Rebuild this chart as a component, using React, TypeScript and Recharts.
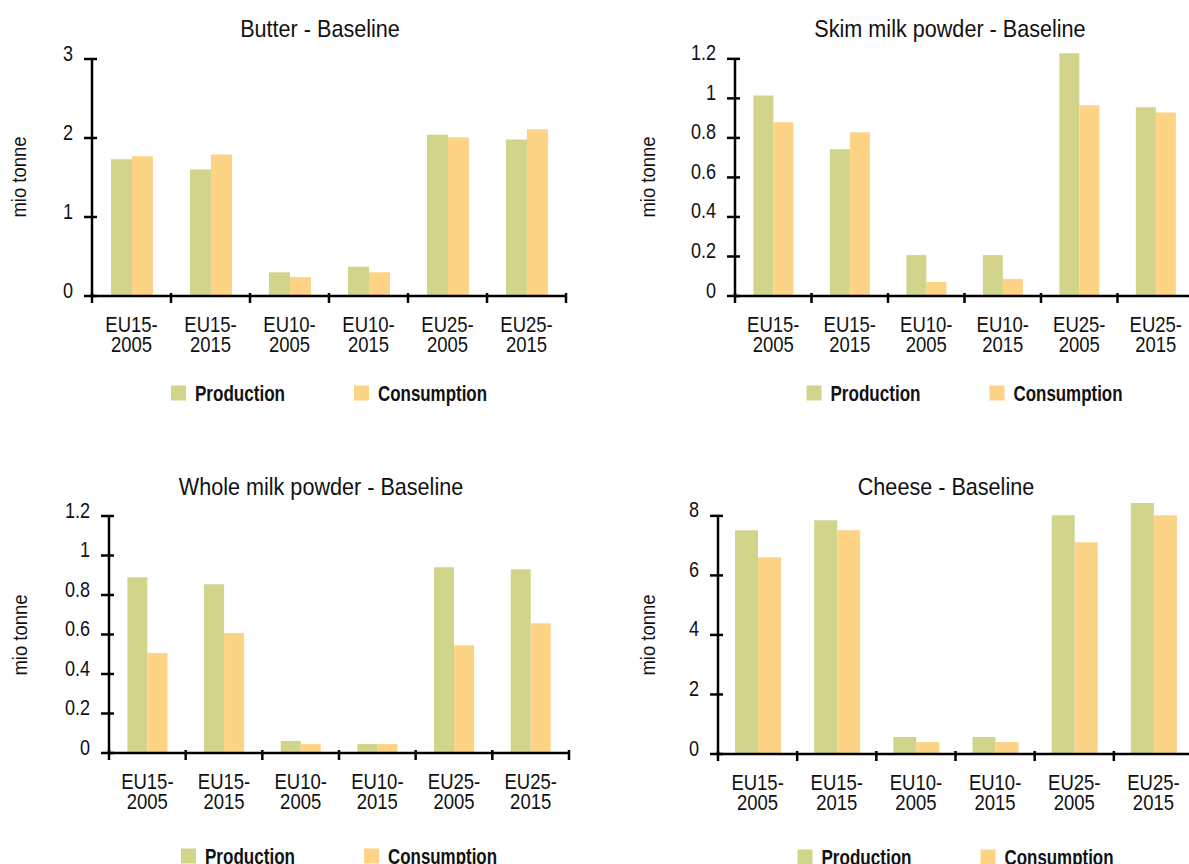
import React from 'react';
import { BarChart, Bar, XAxis, YAxis, Legend, ReferenceLine } from 'recharts';

// categories and series (mio tonne)
const categories = ['EU15-2005', 'EU15-2015', 'EU10-2005', 'EU10-2015', 'EU25-2005', 'EU25-2015'];

const butterProduction = [1.73, 1.6, 0.3, 0.37, 2.04, 1.98];
const butterConsumption = [1.77, 1.79, 0.24, 0.3, 2.01, 2.11];

const smpProduction = [1.015, 0.742, 0.207, 0.207, 1.229, 0.955];
const smpConsumption = [0.879, 0.828, 0.071, 0.086, 0.965, 0.929];

const wmpProduction = [0.89, 0.855, 0.061, 0.046, 0.94, 0.93];
const wmpConsumption = [0.506, 0.607, 0.046, 0.046, 0.546, 0.657];

const cheeseProduction = [7.52, 7.85, 0.57, 0.57, 8.02, 8.43];
const cheeseConsumption = [6.61, 7.52, 0.4, 0.4, 7.11, 8.02];

const butterTicks = [0, 1, 2, 3];
const powderTicks = [0, 0.2, 0.4, 0.6, 0.8, 1, 1.2];
const cheeseTicks = [0, 2, 4, 6, 8];

const seriesNames = ['Production', 'Consumption'];

const GREEN = '#d1d48b';
const ORANGE = '#fdd386';
const FONT = "'Liberation Sans', Arial, sans-serif";
const INK = '#111';

const makeRows = (prod: number[], cons: number[]) =>
  categories.map((c, i) => ({ name: c, Production: prod[i], Consumption: cons[i] }));

// horizontally squeezed text, to get the narrow face of the original
const NText = ({ x, y, sx = 0.86, rotate = 0, children, ...rest }: any) => (
  <text
    transform={`translate(${x} ${y}) rotate(${rotate}) scale(${sx} 1)`}
    x={0}
    y={0}
    fill={INK}
    {...rest}
  >
    {children}
  </text>
);

const XTick = (props: any) => {
  const { x, y, payload, width, index } = props;
  const half = width / categories.length / 2;
  const c = String(payload.value);
  const dash = c.indexOf('-');
  return (
    <g>
      <line x1={x - half} x2={x - half} y1={y - 3} y2={y + 7} stroke="#000" strokeWidth={2.5} />
      {index === categories.length - 1 && (
        <line x1={x + half} x2={x + half} y1={y - 3} y2={y + 7} stroke="#000" strokeWidth={2.5} />
      )}
      <NText x={x} y={y + 35.5} textAnchor="middle" fontSize={21.5}>
        {c.slice(0, dash + 1)}
      </NText>
      <NText x={x} y={y + 55.5} textAnchor="middle" fontSize={21.5}>
        {c.slice(dash + 1)}
      </NText>
    </g>
  );
};

const YTick = (props: any) => {
  const { x, y, payload } = props;
  return (
    <g>
      <line x1={x - 8} x2={x + 5} y1={y} y2={y} stroke="#000" strokeWidth={2.5} />
      <NText x={x - 19} y={y + 1.5} textAnchor="end" fontSize={21.5} sx={0.84}>
        {payload.value}
      </NText>
    </g>
  );
};

// legend text widths as measured on the original
const legendTextWidth: Record<string, number> = { Production: 90, Consumption: 109 };
const legendColor: Record<string, string> = { Production: GREEN, Consumption: ORANGE };

const LegendContent = ({ w, h }: { w: number; h: number }) => {
  const sw = 15;
  const gapText = 9;
  const gapItem = 69;
  const total = seriesNames.reduce((s, n) => s + sw + gapText + legendTextWidth[n], 0) + gapItem;
  let cx = (w - total) / 2;
  const items = seriesNames.map((n) => {
    const x0 = cx;
    cx += sw + gapText + legendTextWidth[n] + gapItem;
    return (
      <g key={n}>
        <rect x={x0} y={h / 2 - sw / 2} width={sw} height={sw} fill={legendColor[n]} />
        <text
          x={x0 + sw + gapText}
          y={h / 2 + 8}
          fontSize={22}
          fontWeight="bold"
          fill={INK}
          textLength={legendTextWidth[n]}
          lengthAdjust="spacingAndGlyphs"
        >
          {n}
        </text>
      </g>
    );
  });
  return (
    <svg width={w} height={h} style={{ display: 'block', fontFamily: FONT }}>
      {items}
    </svg>
  );
};

type PanelProps = {
  title: string;
  rows: any[];
  ticks: number[];
  yMax: number;
  left: number;
  top: number;
  width: number;
  height: number;
  marginTop: number;
  marginRight: number;
  yAxisWidth: number;
  xAxisHeight: number;
  legendHeight: number;
  gap: string;
  titleX: number;
  titleY: number;
  labelX: number;
  labelY: number;
};

function Panel(p: PanelProps) {
  const plotWidth = p.width - p.yAxisWidth - p.marginRight;
  const topTick = p.ticks[p.ticks.length - 1];
  return (
    <div style={{ position: 'absolute', left: p.left, top: p.top }}>
      <BarChart
        width={p.width}
        height={p.height}
        data={p.rows}
        margin={{ top: p.marginTop, right: p.marginRight, left: 0, bottom: 0 }}
        barCategoryGap={p.gap}
        barGap={0}
      >
        <XAxis
          dataKey="name"
          interval={0}
          tickSize={0}
          tickMargin={0}
          tickLine={false}
          axisLine={{ stroke: '#000', strokeWidth: 2.5 }}
          tick={<XTick />}
          height={p.xAxisHeight}
        />
        <YAxis
          domain={[0, p.yMax]}
          allowDataOverflow
          ticks={p.ticks}
          interval={0}
          width={p.yAxisWidth}
          tickSize={0}
          tickMargin={0}
          tickLine={false}
          axisLine={false}
          tick={<YTick />}
        />
        <ReferenceLine
          segment={[
            { x: categories[0], y: 0 },
            { x: categories[0], y: topTick },
          ]}
          position="start"
          stroke="#000"
          strokeWidth={2.5}
        />
        <Legend
          verticalAlign="bottom"
          height={p.legendHeight}
          content={<LegendContent w={plotWidth} h={p.legendHeight} />}
          wrapperStyle={{ left: p.yAxisWidth, width: plotWidth }}
        />
        <Bar dataKey="Production" fill={GREEN} isAnimationActive={false} />
        <Bar dataKey="Consumption" fill={ORANGE} isAnimationActive={false} />
        <NText x={p.titleX} y={p.titleY + 8.5} textAnchor="middle" fontSize={24} sx={0.9}>
          {p.title}
        </NText>
        <NText x={p.labelX} y={p.labelY} rotate={-90} textAnchor="middle" dominantBaseline="central" fontSize={21} sx={0.88}>
          mio tonne
        </NText>
      </BarChart>
    </div>
  );
}

export default function App() {
  return (
    <div
      style={{
        position: 'absolute',
        left: 0,
        top: 0,
        width: 1189,
        height: 864,
        overflow: 'hidden',
        background: '#fff',
        fontFamily: FONT,
      }}
    >
      <Panel
        title="Butter - Baseline"
        rows={makeRows(butterProduction, butterConsumption)}
        ticks={butterTicks}
        yMax={3}
        left={0}
        top={0}
        width={590}
        height={420}
        marginTop={59}
        marginRight={24}
        yAxisWidth={92}
        xAxisHeight={70}
        legendHeight={54}
        gap="24%"
        titleX={320}
        titleY={28}
        labelX={19}
        labelY={177}
      />
      <Panel
        title="Skim milk powder - Baseline"
        rows={makeRows(smpProduction, smpConsumption)}
        ticks={powderTicks}
        yMax={1.26}
        left={590}
        top={0}
        width={610}
        height={420}
        marginTop={47}
        marginRight={6}
        yAxisWidth={145}
        xAxisHeight={70}
        legendHeight={54}
        gap="24%"
        titleX={360}
        titleY={28}
        labelX={58}
        labelY={177}
      />
      <Panel
        title="Whole milk powder - Baseline"
        rows={makeRows(wmpProduction, wmpConsumption)}
        ticks={powderTicks}
        yMax={1.2}
        left={0}
        top={460}
        width={590}
        height={420}
        marginTop={56}
        marginRight={21}
        yAxisWidth={109}
        xAxisHeight={79}
        legendHeight={48}
        gap="24%"
        titleX={321}
        titleY={26}
        labelX={20}
        labelY={175}
      />
      <Panel
        title="Cheese - Baseline"
        rows={makeRows(cheeseProduction, cheeseConsumption)}
        ticks={cheeseTicks}
        yMax={8.6}
        left={590}
        top={460}
        width={610}
        height={421}
        marginTop={38}
        marginRight={7}
        yAxisWidth={128}
        xAxisHeight={79}
        legendHeight={48}
        gap="21.5%"
        titleX={356}
        titleY={26}
        labelX={58}
        labelY={175}
      />
    </div>
  );
}
